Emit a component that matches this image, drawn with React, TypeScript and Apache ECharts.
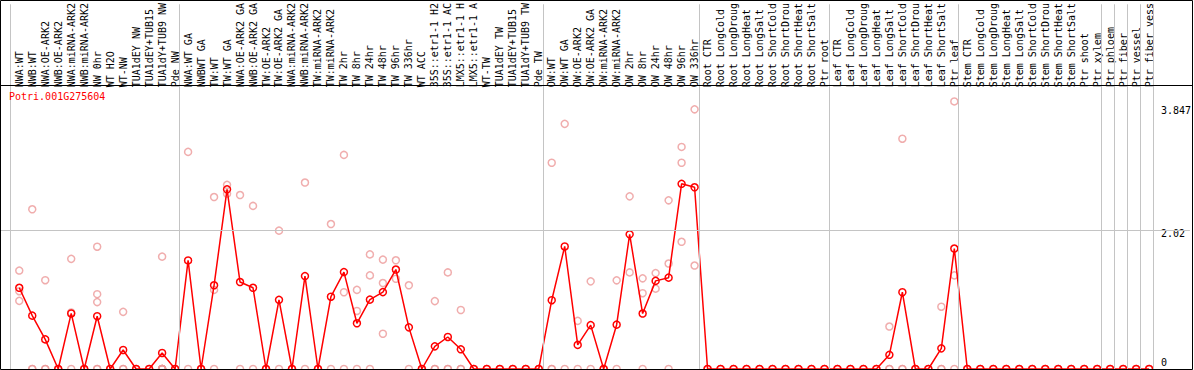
import React, { useEffect, useRef } from "react";
import * as echarts from "echarts";

const title = "Potri.001G275604";

const categories: string[] = [
  "NWA:WT", "NWB:WT", "NWA:OE-ARK2", "NWB:OE-ARK2", "NWA:miRNA-ARK2", "NWB:miRNA-ARK2",
  "NW 0hr", "WT H2O", "WT-NW", "TUA1dEY NW", "TUA1dEY+TUB15", "TUA1dY+TUB9 NW", "Pde NW",
  "NWA:WT GA", "NWBWT GA", "TW:WT", "TW:WT GA", "NWA:OE-ARK2 GA", "NWB:OE-ARK2 GA",
  "TW:OE-ARK2", "TW:OE-ARK2 GA", "NWA:miRNA-ARK2", "NWB:miRNA-ARK2", "TW:miRNA-ARK2",
  "TW:miRNA-ARK2", "TW 2hr", "TW 8hr", "TW 24hr", "TW 48hr", "TW 96hr", "TW 336hr",
  "WT ACC", "35S::etr1-1 H2", "35S::etr1-1 AC", "LMX5::etr1-1 H", "LMX5::etr1-1 A",
  "WT-TW", "TUA1dEY TW", "TUA1dEY+TUB15", "TUA1dY+TUB9 TW", "Pde TW",
  "OW:WT", "OW:WT GA", "OW:OE-ARK2", "OW:OE-ARK2 GA", "OW:miRNA-ARK2", "OW:miRNA-ARK2",
  "OW 2hr", "OW 8hr", "OW 24hr", "OW 48hr", "OW 96hr", "OW 336hr",
  "Root CTR", "Root LongCold", "Root LongDroug", "Root LongHeat", "Root LongSalt",
  "Root ShortCold", "Root ShortDrou", "Root ShortHeat", "Root ShortSalt", "Ptr root",
  "Leaf CTR", "Leaf LongCold", "Leaf LongDroug", "Leaf LongHeat", "Leaf LongSalt",
  "Leaf ShortCold", "Leaf ShortDrou", "Leaf ShortHeat", "Leaf ShortSalt", "Ptr leaf",
  "Stem CTR", "Stem LongCold", "Stem LongDroug", "Stem LongHeat", "Stem LongSalt",
  "Stem ShortCold", "Stem ShortDrou", "Stem ShortHeat", "Stem ShortSalt", "Ptr shoot",
  "Ptr xylem", "Ptr phloem", "Ptr fiber", "Ptr vessel", "Ptr fiber vess",
];

// group boundaries (index of first category in each group, plus the end)
const groupBreaks: number[] = [0, 13, 41, 53, 63, 73, 84, 85, 86, 87, 88];

const means: number[] = [
  1.18, 0.775, 0.43, 0, 0.807, 0, 0.767, 0, 0.276, 0, 0, 0.233, 0,
  1.577, 0, 1.216, 2.61, 1.263, 1.18, 0, 1.005, 0, 1.35, 0, 1.05, 1.408, 0.664, 1.008,
  1.117, 1.445, 0.605, 0, 0.329, 0.465, 0.286, 0, 0, 0, 0, 0, 0,
  0.999, 1.78, 0.35, 0.637, 0, 0.644, 1.956, 0.806, 1.28, 1.327, 2.69, 2.64,
  0, 0, 0, 0, 0, 0, 0, 0, 0, 0,
  0, 0, 0, 0, 0.206, 1.115, 0, 0, 0.3, 1.75,
  0, 0, 0, 0, 0, 0, 0, 0, 0, 0, 0, 0, 0, 0, 0,
];

const replicates: number[][] = [
  [1.43, 1.13, 0.99], [2.32, 0, 0], [1.29, 0, 0], [0, 0], [1.6, 0.82, 0], [0, 0],
  [1.776, 1.087, 0.972, 0, 0], [0, 0], [0.83, 0, 0], [0, 0], [0, 0],
  [1.632, 0, 0, 0, 0, 0, 0], [0, 0],
  [3.154, 0], [0, 0], [2.498, 1.149, 0], [2.675, 2.546], [2.527, 0], [2.369, 0], [0, 0],
  [2.01, 0], [0, 0], [2.709, 0], [0, 0], [2.106, 0], [3.11, 1.115, 0], [1.149, 0.843, 0],
  [1.665, 1.36, 0], [1.589, 1.249, 0.512], [1.579, 1.311], [1.216, 0], [0, 0],
  [0.986, 0, 0], [1.403, 0, 0], [0.857, 0, 0], [0, 0], [0, 0], [0, 0], [0, 0], [0, 0], [0, 0],
  [2.996, 0, 0], [3.561, 0], [0.699, 0], [1.273, 0], [0, 0], [1.288, 0], [2.508, 1.403],
  [1.317, 1.101, 0], [1.393, 1.167], [2.45, 1.532, 0], [3.226, 2.996, 1.848], [3.772, 1.503],
  [0, 0], [0, 0], [0, 0], [0, 0], [0, 0], [0, 0], [0, 0], [0, 0], [0, 0], [0, 0],
  [0, 0], [0, 0], [0, 0], [0, 0], [0.617, 0, 0], [3.345, 0, 0], [0, 0], [0, 0],
  [0.905, 0, 0], [3.887, 1.36, 0],
  [0, 0], [0, 0], [0, 0], [0, 0], [0, 0], [0, 0], [0, 0], [0, 0], [0, 0], [0, 0],
  [0, 0], [0, 0], [0, 0], [0, 0], [0, 0],
];

const yTickLabels: number[] = [0, 2.02, 3.847];
const gridLineValue = 2.02;

const FONT = "DejaVu Sans Mono";

export default function App() {
  const ref = useRef<HTMLDivElement>(null);

  useEffect(() => {
    document.body.style.margin = "0";
    if (!ref.current) return;
    const chart = echarts.init(ref.current, undefined, { renderer: "svg" });

    const meanData = means.map((v, i) => [i, v]);
    const repData: number[][] = [];
    replicates.forEach((reps, i) => reps.forEach((v) => repData.push([i, v])));

    const sepLines = groupBreaks.map((k) => ({ xAxis: k - 0.66 }));

    chart.setOption({
      animation: false,
      backgroundColor: "#ffffff",
      title: {
        text: title,
        left: 9,
        top: 91,
        padding: 0,
        textStyle: { color: "#ff0000", fontSize: 10, fontFamily: FONT, fontWeight: "normal" },
      },
      grid: { left: 0, top: 0, width: 1192, height: 369 },
      xAxis: {
        type: "value",
        min: -1.483,
        max: 90.14,
        position: "top",
        offset: -85,
        axisLine: { show: false },
        axisTick: { show: false },
        splitLine: { show: false },
        axisLabel: {
          customValues: categories.map((_, i) => i),
          formatter: (v: number) => categories[Math.round(v)] ?? "",
          rotate: 90,
          margin: 2,
          fontSize: 10,
          fontFamily: FONT,
          color: "#000",
        },
      },
      yAxis: {
        type: "value",
        min: 0,
        max: 5.298,
        position: "right",
        axisLine: { show: false },
        axisTick: { show: false },
        splitLine: { show: false },
        axisLabel: {
          customValues: yTickLabels,
          inside: true,
          align: "left",
          margin: 29,
          fontSize: 10,
          fontFamily: FONT,
          color: "#000",
          formatter: (v: number) => {
            if (v === 0) return "{a|0}";
            if (Math.abs(v - 2.02) < 1e-6) return "{b|2.02}";
            return "{c|" + v + "}";
          },
          rich: {
            a: { fontSize: 10, fontFamily: FONT, color: "#000", padding: [0, 0, 14, 0] },
            b: { fontSize: 10, fontFamily: FONT, color: "#000", padding: [7, 0, 0, 0] },
            c: { fontSize: 10, fontFamily: FONT, color: "#000", padding: [12, 0, 0, 0] },
          },
        },
      },
      series: [
        {
          type: "line",
          data: [],
          z: 0,
          silent: true,
          markLine: {
            silent: true,
            symbol: ["none", "none"],
            label: { show: false },
            lineStyle: { color: "#c4c4c4", type: "solid", width: 1 },
            data: [...sepLines, { yAxis: gridLineValue }],
          },
        },
        {
          type: "scatter",
          data: repData,
          symbol: "circle",
          symbolSize: 7,
          z: 2,
          itemStyle: { color: "rgba(0,0,0,0)", borderColor: "#ec9898", borderWidth: 1.5 },
        },
        {
          type: "line",
          data: meanData,
          symbol: "circle",
          symbolSize: 7,
          showAllSymbol: true,
          z: 3,
          lineStyle: { color: "#ff0000", width: 1.5 },
          itemStyle: { color: "rgba(0,0,0,0)", borderColor: "#ff0000", borderWidth: 1.5 },
        },
      ],
      graphic: [
        {
          type: "rect",
          shape: { x: 0.5, y: 0.5, width: 1192, height: 369 },
          style: { fill: "none", stroke: "#000", lineWidth: 1 },
          silent: true,
          z: 10,
        },
        {
          type: "line",
          shape: { x1: 0, y1: 85.5, x2: 1193, y2: 85.5 },
          style: { stroke: "#000", lineWidth: 1 },
          silent: true,
          z: 10,
        },
      ],
    });

    return () => chart.dispose();
  }, []);

  return (
    <div
      ref={ref}
      style={{ position: "absolute", left: 0, top: 0, width: 1194, height: 370 }}
    />
  );
}
